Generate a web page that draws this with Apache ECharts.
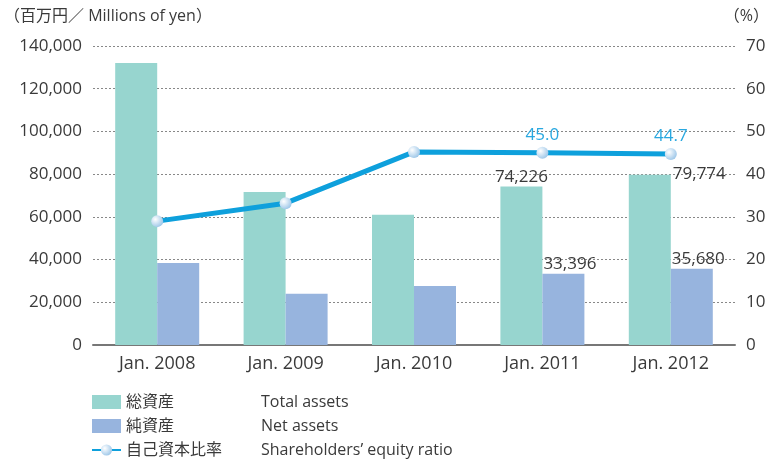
<!DOCTYPE html>
<html>
<head>
<meta charset="utf-8">
<script src="https://cdn.jsdelivr.net/npm/echarts@6/dist/echarts.min.js"></script>
<style>
  body { margin: 0; background: #fff; }
  #chart { width: 775px; height: 462px; }
</style>
</head>
<body>
<div id="chart"></div>
<script>
// values
const years = ['Jan. 2008', 'Jan. 2009', 'Jan. 2010', 'Jan. 2011', 'Jan. 2012'];
const totalAssets = [132000, 71600, 61000, 74226, 79774];
const netAssets = [38400, 24000, 27600, 33396, 35680];
const equityRatio = [29.0, 33.2, 45.2, 45.0, 44.7];
const leftTicks = [0, 20000, 40000, 60000, 80000, 100000, 120000, 140000];
const rightTicks = [0, 10, 20, 30, 40, 50, 60, 70];

// only some points carry a label in the picture
const totalLabelShown = [false, false, false, true, true];
const netLabelShown = [false, false, false, true, true];
const ratioLabelShown = [false, false, false, true, true];

const font = '"Open Sans", "Noto Sans CJK JP", sans-serif';
const textColor = '#3a3a3a';
const fmt = v => v.toLocaleString('en-US');

let el = document.getElementById('chart');
let inst = echarts.init(el, null, { renderer: 'canvas' });

const marker = {
  type: 'radial', x: 0.35, y: 0.35, r: 0.7,
  colorStops: [{ offset: 0, color: '#ffffff' }, { offset: 1, color: '#9cc6e8' }]
};

let option = {
  animation: false,
  textStyle: { fontFamily: font },
  grid: { left: 93, right: 40, top: 46, bottom: 117 },
  graphic: [
    { type: 'text', left: 4, top: 8,
      style: { text: '（百万円／ Millions of yen）', font: '16px ' + font, fill: textColor } },
    { type: 'text', right: 6, top: 8,
      style: { text: '（%）', font: '16px ' + font, fill: textColor } }
  ],
  legend: {
    orient: 'vertical', left: 91, top: 394, height: 80, padding: 0, itemGap: 8,
    itemWidth: 29, itemHeight: 14,
    textStyle: {
      fontSize: 16, color: textColor,
      rich: {
        a: { width: 135, fontSize: 16, lineHeight: 18, color: textColor, fontFamily: font },
        b: { fontSize: 16, lineHeight: 18, color: textColor, fontFamily: font }
      }
    },
    formatter: name => {
      const en = { '総資産': 'Total assets', '純資産': 'Net assets', '自己資本比率': 'Shareholders’ equity ratio' }[name];
      return '{a|' + name + '}{b|' + en + '}';
    },
    data: [
      { name: '総資産', icon: 'rect' },
      { name: '純資産', icon: 'rect' },
      { name: '自己資本比率' }
    ]
  },
  xAxis: {
    type: 'category', data: years,
    axisLine: { lineStyle: { color: '#777', width: 2 } },
    axisTick: { show: false },
    axisLabel: { fontSize: 18, color: textColor, margin: 10 }
  },
  yAxis: [
    {
      type: 'value', min: leftTicks[0], max: leftTicks[leftTicks.length - 1], interval: 20000,
      axisLine: { show: false }, axisTick: { show: false },
      axisLabel: { fontSize: 17, color: textColor, margin: 11, formatter: fmt },
      splitLine: { lineStyle: { type: [2, 2], color: '#888' } }
    },
    {
      type: 'value', min: rightTicks[0], max: rightTicks[rightTicks.length - 1], interval: 10,
      axisLine: { show: false }, axisTick: { show: false },
      axisLabel: { fontSize: 17, color: textColor, margin: 11 },
      splitLine: { show: false }
    }
  ],
  series: [
    {
      name: '総資産', type: 'bar', barWidth: 42, barGap: '0%',
      itemStyle: { color: '#97d5cf' },
      data: totalAssets.map((v, i) => ({
        value: v,
        label: totalLabelShown[i] ? (i === 4 ? {
          show: true, position: ['100%', 0], align: 'left', verticalAlign: 'middle',
          offset: [2, 0], fontSize: 17, color: textColor, formatter: p => fmt(p.value)
        } : {
          show: true, position: 'top', distance: 1,
          fontSize: 17, color: textColor, formatter: p => fmt(p.value)
        }) : { show: false }
      }))
    },
    {
      name: '純資産', type: 'bar', barWidth: 42,
      itemStyle: { color: '#97b4de' },
      data: netAssets.map((v, i) => ({
        value: v,
        label: netLabelShown[i] ? {
          show: true, position: [1, -1], align: 'left', verticalAlign: 'bottom',
          fontSize: 17, color: textColor, formatter: p => fmt(p.value)
        } : { show: false }
      }))
    },
    {
      name: '自己資本比率', type: 'line', yAxisIndex: 1,
      symbol: 'circle', symbolSize: 12,
      lineStyle: { color: '#0ea0dc', width: 5 },
      itemStyle: { color: marker, borderWidth: 0 },
      data: equityRatio.map((v, i) => ({
        value: v,
        label: ratioLabelShown[i] ? {
          show: true, position: 'top', distance: 3,
          fontSize: 17, color: '#29a8e0', formatter: p => p.value.toFixed(1)
        } : { show: false }
      }))
    }
  ]
};
inst.setOption(option);
</script>
</body>
</html>
